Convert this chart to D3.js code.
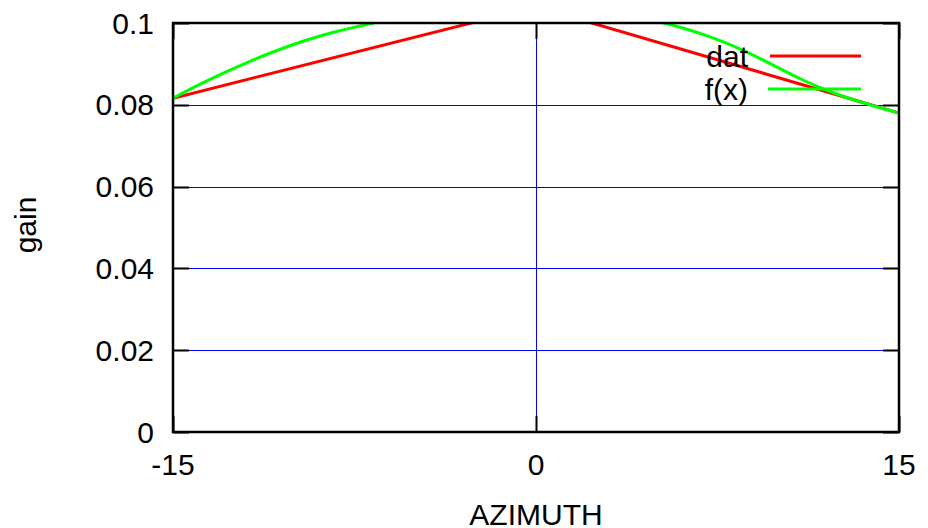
<!DOCTYPE html>
<html>
<head>
<meta charset="utf-8">
<script src="https://cdn.jsdelivr.net/npm/d3@7"></script>
<style>
html,body{margin:0;padding:0;background:#fff;}
svg{display:block;}
text{font-family:"Liberation Sans",Arial,sans-serif;font-size:30px;}
</style>
</head>
<body>
<svg id="chart" width="928" height="528"></svg>
<script>
// Data
const xTicks = [-15, 0, 15];
const yTicks = [0, 0.02, 0.04, 0.06, 0.08, 0.1];
const yTickLabels = ["0", "0.02", "0.04", "0.06", "0.08", "0.1"];
const datAz = [-15, 0, 15];
const datGain = [0.0816, 0.104, 0.078];
const fitAz = [-15, -13.75, -12.37, -11, -9.6, -8.2, -6.6, -4, -1, 2, 5.3, 6.9, 8.3, 9.7, 11.05, 12.4, 13.8, 15];
const fitGain = [0.0816, 0.0854, 0.0892, 0.0926, 0.0956, 0.0980, 0.1002, 0.1035, 0.1052, 0.1042, 0.1, 0.0972, 0.0940, 0.0900, 0.0860, 0.0827, 0.0800, 0.0780];
const seriesNames = ["dat", "f(x)"];
const seriesColors = ["#ff0000", "#00ff00"];

const svg = d3.select("#chart");
const L = 173, R = 899, T = 23, B = 432;
const x = d3.scaleLinear().domain([-15, 15]).range([L, R]);
const y = d3.scaleLinear().domain([0, 0.1]).range([B, T]);
const tickLen = 16;
const fs = "30px";

// grid
const grid = svg.append("g").attr("stroke", "#0000ff").attr("stroke-width", 1);
yTicks.filter(v => v > 0 && v < 0.1).forEach(v => {
  grid.append("line").attr("x1", L).attr("x2", R).attr("y1", Math.round(y(v)) + 0.5).attr("y2", Math.round(y(v)) + 0.5);
});
xTicks.filter(v => v > -15 && v < 15).forEach(v => {
  grid.append("line").attr("x1", Math.round(x(v)) + 0.5).attr("x2", Math.round(x(v)) + 0.5).attr("y1", T).attr("y2", B);
});

// ticks
const ticks = svg.append("g").attr("stroke", "#000").attr("stroke-width", 2);
yTicks.forEach(v => {
  const yy = Math.round(y(v)) + 0.5;
  ticks.append("line").attr("x1", L).attr("x2", L + tickLen).attr("y1", yy).attr("y2", yy);
  ticks.append("line").attr("x1", R - tickLen).attr("x2", R).attr("y1", yy).attr("y2", yy);
});
xTicks.forEach(v => {
  const xx = Math.round(x(v)) + 0.5;
  ticks.append("line").attr("x1", xx).attr("x2", xx).attr("y1", B).attr("y2", B - tickLen);
  ticks.append("line").attr("x1", xx).attr("x2", xx).attr("y1", T).attr("y2", T + tickLen);
});

// tick labels
svg.append("g").selectAll("text").data(yTicks).join("text")
  .attr("x", L - 19).attr("y", d => y(d)).attr("dy", "0.35em")
  .attr("text-anchor", "end").style("font-size", fs)
  .text((d, i) => yTickLabels[i]);
svg.append("g").selectAll("text").data(xTicks).join("text")
  .attr("x", d => x(d)).attr("y", 464.5).attr("dy", "0.35em")
  .attr("text-anchor", "middle").style("font-size", fs)
  .text(d => d);

// axis titles
svg.append("text").attr("x", (L + R) / 2).attr("y", 514).attr("dy", "0.35em")
  .attr("text-anchor", "middle").style("font-size", fs).text("AZIMUTH");
svg.append("text").attr("transform", "translate(25.5,225) rotate(-90)").attr("dy", "0.35em")
  .attr("text-anchor", "middle").style("font-size", fs).text("gain");

// clip
svg.append("clipPath").attr("id", "clip").append("rect")
  .attr("x", L).attr("y", T).attr("width", R - L).attr("height", B - T);

const plot = svg.append("g").attr("clip-path", "url(#clip)");

// legend
const legY = [56, 89];
seriesNames.forEach((n, i) => {
  svg.append("text").attr("x", 748).attr("y", legY[i]).attr("dy", "0.35em")
    .attr("text-anchor", "end").style("font-size", fs).text(n);
});

const lineLin = d3.line().x(d => x(d[0])).y(d => y(d[1]));
const lineSmooth = d3.line().x(d => x(d[0])).y(d => y(d[1])).curve(d3.curveNatural);

plot.append("path").datum(datAz.map((a, i) => [a, datGain[i]]))
  .attr("fill", "none").attr("stroke", seriesColors[0]).attr("stroke-width", 3)
  .attr("d", lineLin);
svg.append("line").attr("x1", 770).attr("x2", 861).attr("y1", legY[0]).attr("y2", legY[0])
  .attr("stroke", seriesColors[0]).attr("stroke-width", 3);

plot.append("path").datum(fitAz.map((a, i) => [a, fitGain[i]]))
  .attr("fill", "none").attr("stroke", seriesColors[1]).attr("stroke-width", 3)
  .attr("d", lineSmooth);
svg.append("line").attr("x1", 768).attr("x2", 861).attr("y1", legY[1]).attr("y2", legY[1])
  .attr("stroke", seriesColors[1]).attr("stroke-width", 3);

// border
svg.append("rect").attr("x", L).attr("y", T).attr("width", R - L).attr("height", B - T)
  .attr("fill", "none").attr("stroke", "#000").attr("stroke-width", 2.5);
</script>
</body>
</html>
